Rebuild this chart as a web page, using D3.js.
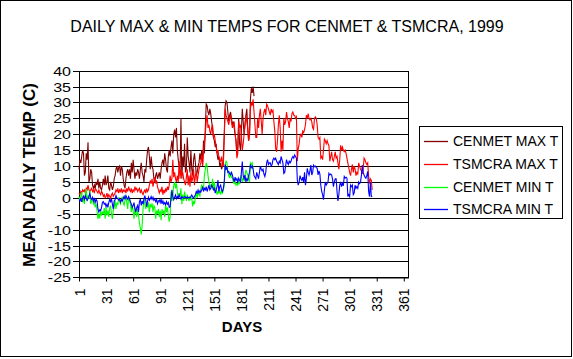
<!DOCTYPE html>
<html><head><meta charset="utf-8">
<script src="https://cdn.jsdelivr.net/npm/d3@7"></script>
<style>
body{margin:0;background:#fff}
text{font-family:"Liberation Sans",Arial,sans-serif;fill:#000}
</style>
</head><body>
<svg id="chart" width="573" height="359"></svg>
<script>
// ---- data (day-by-day estimates) ----
const title = "DAILY MAX & MIN TEMPS FOR CENMET & TSMCRA, 1999";
const seriesNames = ["CENMET MAX T","TSMCRA MAX T","CENMET MIN T","TSMCRA MIN T"];
const yTicks = [40,35,30,25,20,15,10,5,0,-5,-10,-15,-20,-25];
const xTicks = [1,31,61,91,121,151,181,211,241,271,301,331,361];

const cenmetMax = [
 9,12,11,13,15,14,7,8,14,12,
 17.5,5,6,9,8,4,3,4,3,5,
 4,6,3,5,3,2.5,4,6,4,7,
 4,5,7,3,2.5,5,4,2.5,3.5,6,
 7,9,10,8,9.5,10,7,10,9,6,
 4,3,6,8,9,7,9,6,11,8,
 12,9,6,8,7,9,8,6,9,11,
 8,7,5,9,8,12,15,16,13,9,
 13,10,9,6,5,7,8,6,7,8,
 6,9,11,12,10,14,12,9,8,13,
 15,13,16,18,14,20,21.5,19,22,15,
 12,10,8,25,6,13,10,17,8,9,
 19,13,11,8,15,9,7,12,14,11,
 7,8,10,11,14,12,15,10,18,14,
 22,29.5,29,27,26,28,26.5,24,22,19,
 18,16,17,14,12,13,10,11,9,10,
 13,20,29,30.5,30,27,24,26,27,25,
 23,24,22,20,18,14,16,25,17,15,
 21,28,24,20,23,26,28,22,18,20,
 31,34.5,33,35,32
];
const tsmcraMax = [
 1.5,1,2,1.5,2.5,2,2.5,1.5,3,2.5,
 4,2.5,2,2.5,3,2,2.5,1.5,3,2.5,
 2,1.5,2.5,1.5,1,2,1.5,0.5,1,0,
 0.5,1.5,0,1,0.5,-0.2,1,1.5,0.5,1,
 1.5,2.5,2,3,1.5,2.5,2,3,1.5,2.5,
 2,2.5,1.5,3,2,3.5,2.5,2,3,1.5,
 2.5,2,3.5,2.5,3,2,2.5,3,1.5,2.5,
 1.5,1,2,2.5,1.5,3,2,2.5,4,5.5,
 4.5,6,3.5,5,6.5,4.5,5.5,3.5,2.5,1.5,
 2.5,2,3.5,1,2.5,1.5,3,2,3.5,2.5,
 4,7,5,6,12,6.5,8,6,5,7,
 5,11.5,6,9,7,8,6,5,4,6.5,
 9,4,7,3.5,8,5,6,9,4,7,
 8,5,7,9,10,11,13.5,10,15,17,
 20,24,26,22,23,21,20,22,23,19,
 20,18,16,14,15,13,12,11.5,13,10,
 10,19,28,26,25,24,23,25,26,24,
 22,23,24,20,18,12.5,14,24,22,23,
 19,15,17,20,23,26,24,22,18,20,
 28,30,29,31,27,23,19,19,25,22,
 26,28,24,20,25,27,28,26,29.5,29,
 28,27,26,28,27,27.5,24,21,15.5,14.5,
 18,23,26,22,14.5,18,15,25,23,24,
 27,25,24,22,25,24,26.5,27,26,26,
 25,25.5,11.5,15.5,17,19.5,20,19,21,20.5,
 21.5,23,26,25,26.5,25,24.5,25,24,22,
 21.5,25,25.5,25,23,19,18.5,19,12.5,13,
 12,15,18.5,18,17,18,17,16.5,11.5,13,
 14.5,12,11.5,13,14.5,12.5,13,11,9,12,
 16.5,15,16,15,14.5,15,14,12.5,11,9.5,
 8,7,9,10.5,8,10,9,7,8,7.5,
 11,10,9,8.5,7.5,9,12.5,12,11,10.5,
 11,7,4.5,6,5.5,2.5
];
const cenmetMin = [
 0.5,-0.8,0.2,1.8,-1.4,0,-1.9,1,2.8,-1,
 0.5,-0.3,2.2,-1.9,-1,-0.5,-1.9,-1.2,-3,-2,
 -4,-6.6,-5,-6.5,-4,-5.6,-4.5,-5,-3.2,-6.6,
 -3,-5.5,-4,-6,-3.2,-2.4,-5,-6.6,-4,-3,
 -0.8,-3.5,-1.5,-2.3,0.2,-1,-1.9,-0.5,0.4,-1.5,
 -2.3,-0.8,0.7,-1.5,-3.5,0.4,-1,-2,-4.4,-2.4,
 -4,-6.6,-3,-5,-6,-3.5,-5.6,-8,-9.5,-11.5,
 -8.5,-3.5,-0.3,-2,-3.5,-1.5,-3,-1.4,-4.5,-2,
 -3,-1.7,-4.5,-2.5,-3,-6.6,-4,-5,-3.5,-6,
 -4,-7,-3.5,-5,-4,-6,-2,-4.5,-3,-5.5,
 -7.5,-6,2,-1,0.5,4,5,3,4.5,2,
 0,1.5,0.5,3,-2,1,-1,2,0.5,-1,
 1,0,-1,0.5,-0.5,0,-2.7,-1,-2,0,
 1.5,0,2,1,0.5,3,4,3.5,3,7,
 9,11,10,7,5,3.5,4,3,6,2.5,
 5,3,2.5,1,2,1.5,2.5,1,2,1.5,
 2.5,4,10.5,11.5,11,8.3,7,6.2,8,6.5,
 6.2,5,4.5,5,4,4.5,4,5,4.5,6,
 7.2,5,6,5.5,7,8.8,8,7.2,6,5,
 11,10.5,11,9
];
const tsmcraMin = [
 -0.5,-1,-0.3,-1.3,0,0.5,-0.5,0.7,0,-0.8,
 -0.3,0.5,1.4,0,-0.5,0.2,-1,0,-1.4,-0.5,
 -1,-3.5,-4.5,-3.8,-4,-3,-1.4,-1.2,-2,-1.7,
 -2.8,-2,-3,-1.5,-0.5,-1.2,-0.3,-2,-3.5,-1,
 -0.5,0.7,0,-0.3,-0.7,-0.3,-1.4,-0.5,-1,-0.2,
 0.5,-0.3,0.7,0,-0.5,0.4,-0.3,-1.2,-2,-3,
 -2.4,-1.5,-3.5,-4.5,-3,-2.4,-4.4,-1.2,-0.3,-2.4,
 -1,-2,-0.3,0.7,-0.7,-2.8,-1,0.2,-0.8,-0.3,
 0.4,-0.5,0.2,-0.8,-0.3,-1.2,-0.5,-1.9,-1,-0.7,
 -1.5,-0.3,-1.9,-1,-2,-1.5,-2.2,-1.2,-2,-1.5,
 -3,-2.8,-0.2,2.5,0.4,-0.6,0.2,0.9,-0.3,0.4,
 -0.1,0.9,0.2,-0.4,0.4,0,-0.1,0.4,0.2,-0.1,
 0.3,0,0.2,-0.1,0.4,0.9,0.3,-0.1,0.5,1,
 2,1.5,2.5,1.5,2.2,1.8,2.5,3.5,2,3,
 2.5,3.5,2,3,4,2.5,3,4,3.5,2.5,
 3,1.5,2.5,3.5,5.6,2,3.5,4,2.5,2,
 3,5,10.5,9,9.5,8,8.3,7.5,7.2,8,
 7.2,6,5,6.5,5.5,6,5,6.2,5.5,5,
 8,11.4,7,6,7.2,5,6,5.5,7,8,
 10.5,9.5,10,9,7,6.5,6,8,7,6,
 8,10,9,8.5,9,7.5,6.7,8,11,12,
 10.5,11,11,10,10.5,12,12.5,12,12.5,11.5,
 11,10.5,11.5,11,13,12,11,7.7,8,10,
 12,11,10.5,11.5,11,11.5,12.5,13,12.5,13.5,
 13,12.5,5.6,4,5,7,6,5.5,6.5,5,
 8,4,6,9.3,8,7.2,8.5,10.3,7.2,8,
 10.3,9.8,10,9.5,9.3,7.2,8.5,7.5,4,2,
 1,-0.6,2.5,5,4,4.5,5,7.7,7.2,7.5,
 7.2,6,3.5,5,6,6,2,-1,1,4,
 5,3.5,4.5,3.8,6.7,6.2,6.5,6.2,0.4,1,
 0.4,4,3.5,4,1,1.5,4,3,3.5,3,
 5,4.5,5,7,10.3,8,7.2,6.5,6.2,7,
 8.3,2,0.4,5,0.4,0.5
];

// ---- styles / layout ----
const colors = ["#800000","#ff0000","#00ff00","#0000ff"];
const plot = {left:79, top:70.7, right:408.3, bottom:277.3};

const svg = d3.select("#chart");
svg.append("rect").attr("x",0.5).attr("y",0.5).attr("width",571).attr("height",356)
  .attr("fill","#fff").attr("stroke","#000");

const x = d3.scaleLinear().domain([1,366]).range([plot.left, plot.right]);
const y = d3.scaleLinear().domain([-25,40]).range([plot.bottom, plot.top]);
const crisp = v => Math.round(v) + 0.5;

// plot area
svg.append("rect").attr("x",crisp(plot.left)).attr("y",crisp(plot.top))
  .attr("width",Math.round(plot.right)-Math.round(plot.left)).attr("height",Math.round(plot.bottom)-Math.round(plot.top))
  .attr("fill","#fff").attr("stroke","#000");

// gridlines + y ticks
const gy = svg.append("g");
yTicks.forEach(t=>{
  const yy = crisp(y(t));
  gy.append("line").attr("x1",plot.left-6).attr("x2",Math.round(plot.right)+0.5)
    .attr("y1",yy).attr("y2",yy).attr("stroke","#000");
  gy.append("g").attr("transform",`translate(${plot.left-8},${yy}) scale(1.18,1)`)
    .append("text").attr("x",0).attr("y",0).attr("dy","0.36em")
    .attr("text-anchor","end").style("font-size","13.6px").text(t);
});
// y axis line
svg.append("line").attr("x1",crisp(plot.left)).attr("x2",crisp(plot.left))
  .attr("y1",crisp(plot.top)).attr("y2",crisp(plot.bottom)).attr("stroke","#000");

// x axis
const gx = svg.append("g").attr("transform",`translate(0,${crisp(plot.bottom)})`)
  .call(d3.axisBottom(x).tickValues(xTicks).tickSize(4).tickSizeOuter(0).tickFormat(d3.format("d")));
gx.select(".domain").attr("stroke","#000");
gx.selectAll(".tick line").attr("stroke","#000");
gx.selectAll(".tick text")
  .attr("transform","rotate(-90)").attr("text-anchor","end")
  .attr("x",-11).attr("y",0).attr("dy","0.36em")
  .style("font-size","14px").style("font-family",'"Liberation Sans",Arial,sans-serif').attr("fill","#000");

// series
const series = [cenmetMax, tsmcraMax, cenmetMin, tsmcraMin];
const line = d3.line().x((d,i)=>x(i+1)).y(d=>y(d));
series.forEach((s,k)=>{
  svg.append("path").datum(s).attr("d",line).attr("fill","none")
    .attr("stroke",colors[k]).attr("stroke-width",1.1).attr("stroke-linejoin","miter");
});

// titles
svg.append("text").attr("x",287).attr("y",32).attr("text-anchor","middle")
  .style("font-size","16px").text(title);
svg.append("text").attr("transform","translate(35,175) rotate(-90)").attr("text-anchor","middle")
  .style("font-size","17px").style("font-weight","bold").text("MEAN DAILY TEMP (C)");
svg.append("text").attr("x",242).attr("y",332).attr("text-anchor","middle")
  .style("font-size","15px").style("font-weight","bold").text("DAYS");

// legend
const lg = svg.append("g");
lg.append("rect").attr("x",419.5).attr("y",126.5).attr("width",143).attr("height",92)
  .attr("fill","#fff").attr("stroke","#000");
seriesNames.forEach((n,k)=>{
  const yy = 141 + k*22.8;
  lg.append("line").attr("x1",424).attr("x2",448).attr("y1",Math.round(yy)+0.5).attr("y2",Math.round(yy)+0.5)
    .attr("stroke",colors[k]).attr("stroke-width",1.3);
  lg.append("text").attr("x",453).attr("y",yy).attr("dy","0.36em").style("font-size","14px").text(n);
});
</script>
</body></html>
